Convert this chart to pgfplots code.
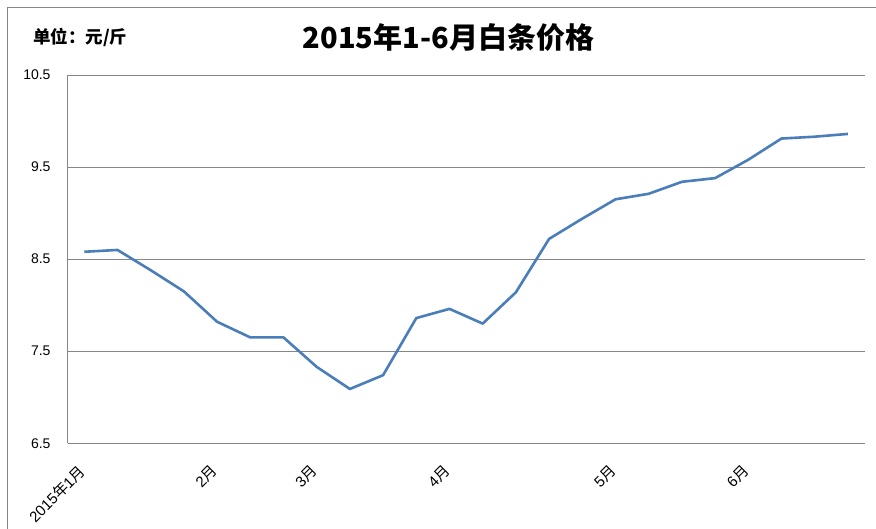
\documentclass[border=0pt]{standalone}
\usepackage{pgfplots}
\pgfplotsset{compat=1.18}
\usepackage{fontspec}
\setmainfont{Liberation Sans}
\newfontfamily\cjk{Noto Sans CJK SC}
\definecolor{gridgray}{RGB}{134,134,134}
\definecolor{lineblue}{RGB}{74,126,187}

\begin{document}
\begin{tikzpicture}
\path[use as bounding box] (0,0) rectangle (876bp,-529bp);
\draw[gridgray, line width=1bp] (7.5bp,-529bp) -- (7.5bp,-7.3bp) -- (876bp,-7.3bp);
\node[anchor=center, inner sep=0pt, font=\cjk\bfseries\fontsize{29bp}{32bp}\selectfont] at (448.5bp,-37.7bp) {2015年1-6月白条价格};
\node[anchor=west, inner sep=0pt, font=\cjk\bfseries\fontsize{17.5bp}{19bp}\selectfont] at (33bp,-37bp) {单位：元/斤};
\begin{axis}[
  at={(67.7bp,-443.3bp)}, anchor=south west,
  scale only axis, width=796.8bp, height=368.3bp,
  xmin=-0.5, xmax=23.5, ymin=6.5, ymax=10.5,
  axis lines=left,
  axis line style={-, draw=gridgray, line width=1bp},
  ytick={6.5,7.5,8.5,9.5,10.5},
  yticklabels={6.5,7.5,8.5,9.5,10.5},
  ymajorgrids,
  grid style={gridgray, line width=1bp},
  xtick={0,4,7,11,16,20},
  xticklabels={2015{\cjk 年}1{\cjk 月}, 2{\cjk 月}, 3{\cjk 月}, 4{\cjk 月}, 5{\cjk 月}, 6{\cjk 月}},
  major tick length=0pt,
  tick style={draw=none},
  yticklabel style={font=\fontsize{14bp}{16bp}\selectfont, inner sep=0pt, anchor=east, xshift=-17bp},
  xticklabel style={font=\fontsize{15bp}{17bp}\selectfont, xshift=-7bp, yshift=-20bp, rotate=45, anchor=north east, inner sep=0pt},
]
\addplot[lineblue, line width=2.6bp, line join=round, no markers] coordinates {
(0,8.58) (1,8.60) (2,8.38) (3,8.15) (4,7.82) (5,7.65) (6,7.65) (7,7.33)
(8,7.09) (9,7.24) (10,7.86) (11,7.96) (12,7.80) (13,8.14) (14,8.72) (15,8.94)
(16,9.15) (17,9.21) (18,9.34) (19,9.38) (20,9.58) (21,9.81) (22,9.83) (23,9.86)
};
\end{axis}
\end{tikzpicture}
\end{document}
